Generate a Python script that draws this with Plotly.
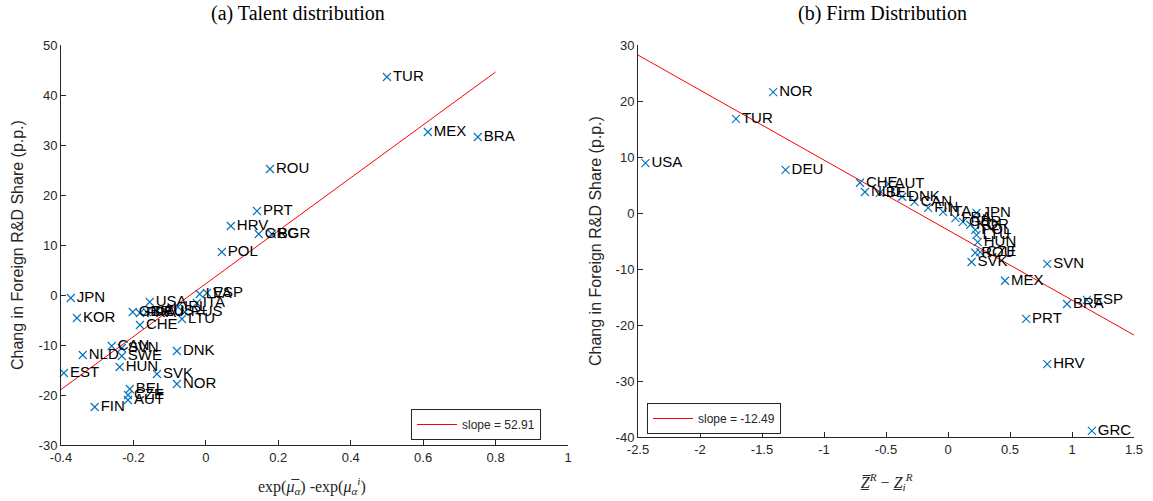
import plotly.graph_objects as go

# ---------------- data: (a) Talent distribution ----------------
talent_countries = ["TUR", "MEX", "BRA", "ROU", "PRT", "HRV", "GRC", "BGR", "POL",
                    "ESP", "LVA", "ITA", "IRL", "RUS", "LTU", "USA", "GBR", "FRA",
                    "DEU", "AUS", "CHE", "JPN", "KOR", "CAN", "SVN", "SWE", "NLD",
                    "EST", "HUN", "SVK", "NOR", "DNK", "BEL", "CZE", "AUT", "FIN"]
talent_x = [0.500, 0.613, 0.751, 0.177, 0.141, 0.069, 0.146, 0.182, 0.044,
            0.003, -0.017, -0.025, -0.077, -0.058, -0.066, -0.155, -0.202, -0.182,
            -0.163, -0.135, -0.182, -0.373, -0.356, -0.260, -0.232, -0.232, -0.340,
            -0.392, -0.238, -0.135, -0.080, -0.080, -0.210, -0.215, -0.215, -0.307]
talent_y = [43.6, 32.6, 31.6, 25.2, 16.8, 13.8, 12.2, 12.2, 8.6,
            0.4, 0.2, -1.6, -2.4, -3.4, -4.8, -1.4, -3.4, -3.6,
            -3.4, -3.2, -6.0, -0.6, -4.6, -10.2, -10.6, -12.2, -12.0,
            -15.6, -14.4, -15.8, -17.8, -11.2, -18.8, -20.0, -21.0, -22.4]
talent_fit_x = [-0.4, 0.8]
talent_fit_y = [-18.9, 44.6]
talent_slope_label = "slope = 52.91"

# ---------------- data: (b) Firm Distribution ----------------
firm_countries = ["NOR", "TUR", "USA", "DEU", "CHE", "NLD", "AUT", "BEL", "DNK",
                  "CAN", "FIN", "ITA", "FRA", "GBR", "JPN", "KOR", "POL", "LTU",
                  "HUN", "ROU", "CZE", "SVK", "MEX", "SVN", "ESP", "BRA", "PRT",
                  "HRV", "GRC"]
firm_x = [-1.41, -1.71, -2.44, -1.31, -0.71, -0.67, -0.48, -0.55, -0.37,
          -0.27, -0.16, -0.04, 0.06, 0.12, 0.23, 0.18, 0.22, 0.23,
          0.24, 0.22, 0.26, 0.19, 0.46, 0.80, 1.12, 0.96, 0.63,
          0.80, 1.16]
firm_y = [21.6, 16.8, 8.9, 7.7, 5.4, 3.75, 5.2, 3.6, 2.9,
          2.0, 0.9, 0.2, -0.9, -1.6, 0.0, -2.1, -3.0, -3.9,
          -5.2, -7.1, -7.0, -8.75, -12.1, -9.1, -15.5, -16.25, -18.9,
          -27.0, -38.9]
firm_fit_x = [-2.5, 1.5]
firm_fit_y = [28.2, -21.8]
firm_slope_label = "slope = -12.49"

# ---------------- tick labels ----------------
talent_xticks = [-0.4, -0.2, 0, 0.2, 0.4, 0.6, 0.8, 1]
talent_xtick_text = ["-0.4", "-0.2", "0", "0.2", "0.4", "0.6", "0.8", "1"]
talent_yticks = [-30, -20, -10, 0, 10, 20, 30, 40, 50]
talent_ytick_text = ["-30", "-20", "-10", "0", "10", "20", "30", "40", "50"]
firm_xticks = [-2.5, -2, -1.5, -1, -0.5, 0, 0.5, 1, 1.5]
firm_xtick_text = ["-2.5", "-2", "-1.5", "-1", "-0.5", "0", "0.5", "1", "1.5"]
firm_yticks = [-40, -30, -20, -10, 0, 10, 20, 30]
firm_ytick_text = ["-40", "-30", "-20", "-10", "0", "10", "20", "30"]

W, H = 1153, 501
AXC = "#262626"
BLUE = "#0072BD"
SANS = "Liberation Sans, Arial, sans-serif"
SERIF = "Liberation Serif, DejaVu Serif, serif"

fig = go.Figure()

# red fit lines
fig.add_trace(go.Scatter(x=talent_fit_x, y=talent_fit_y, mode="lines",
                         line=dict(color="#FF0000", width=1),
                         name=talent_slope_label, xaxis="x", yaxis="y",
                         legend="legend", showlegend=True))
fig.add_trace(go.Scatter(x=firm_fit_x, y=firm_fit_y, mode="lines",
                         line=dict(color="#FF0000", width=1),
                         name=firm_slope_label, xaxis="x2", yaxis="y2",
                         legend="legend2", showlegend=True))

# scatter points with labels
fig.add_trace(go.Scatter(x=talent_x, y=talent_y, mode="markers+text",
                         text=talent_countries, textposition="middle right",
                         textfont=dict(family=SANS, size=15, color="black"),
                         marker=dict(symbol="x-thin", size=8,
                                     line=dict(color=BLUE, width=1.1), color=BLUE),
                         xaxis="x", yaxis="y", showlegend=False, cliponaxis=False))
fig.add_trace(go.Scatter(x=firm_x, y=firm_y, mode="markers+text",
                         text=firm_countries, textposition="middle right",
                         textfont=dict(family=SANS, size=15, color="black"),
                         marker=dict(symbol="x-thin", size=8,
                                     line=dict(color=BLUE, width=1.1), color=BLUE),
                         xaxis="x2", yaxis="y2", showlegend=False, cliponaxis=False))

def px_x(p):
    return p / W

def px_y(p):
    return 1 - p / H

axis_common = dict(showline=True, linecolor=AXC, linewidth=1, mirror=False,
                   showgrid=False, zeroline=False, ticks="inside", ticklen=5,
                   tickcolor=AXC, tickwidth=1, automargin=False,
                   tickfont=dict(family=SANS, size=13, color=AXC))

fig.update_layout(
    width=W, height=H,
    margin=dict(l=0, r=0, t=0, b=0, autoexpand=False),
    paper_bgcolor="white", plot_bgcolor="white",
    xaxis=dict(domain=[px_x(61), px_x(568)], range=[-0.4, 1], anchor="y",
               tickmode="array", tickvals=talent_xticks, ticktext=talent_xtick_text,
               **axis_common),
    yaxis=dict(domain=[px_y(445), px_y(45)], range=[-30, 50], anchor="x",
               tickmode="array", tickvals=talent_yticks, ticktext=talent_ytick_text,
               **axis_common),
    xaxis2=dict(domain=[px_x(638), px_x(1134)], range=[-2.5, 1.5], anchor="y2",
                tickmode="array", tickvals=firm_xticks, ticktext=firm_xtick_text,
                **axis_common),
    yaxis2=dict(domain=[px_y(437), px_y(45)], range=[-40, 30], anchor="x2",
                tickmode="array", tickvals=firm_yticks, ticktext=firm_ytick_text,
                **axis_common),
    legend=dict(x=px_x(411), y=px_y(409), xanchor="left", yanchor="top",
                bgcolor="white", bordercolor=AXC, borderwidth=1,
                font=dict(family=SANS, size=12, color=AXC), itemwidth=40,
                tracegroupgap=0),
    legend2=dict(x=px_x(647), y=px_y(403), xanchor="left", yanchor="top",
                 bgcolor="white", bordercolor=AXC, borderwidth=1,
                 font=dict(family=SANS, size=12, color=AXC), itemwidth=40,
                 tracegroupgap=0),
    showlegend=True,
)

annotations = [
    dict(text="(a) Talent distribution", x=px_x(298), y=px_y(14),
         font=dict(family=SERIF, size=20, color="black")),
    dict(text="(b) Firm Distribution", x=px_x(882), y=px_y(14),
         font=dict(family=SERIF, size=20, color="black")),
    dict(text="Chang in Foreign R&D Share (p.p.)", x=px_x(17), y=px_y(245),
         textangle=-90, font=dict(family=SANS, size=16, color=AXC)),
    dict(text="Chang in Foreign R&D Share (p.p.)", x=px_x(595), y=px_y(241),
         textangle=-90, font=dict(family=SANS, size=16, color=AXC)),
    dict(text="exp(<i>μ\u0305<sub>α</sub></i>) -exp(<i>μ<sub>α</sub><sup>i</sup></i>)",
         x=px_x(312), y=px_y(486),
         font=dict(family=SERIF, size=16, color=AXC)),
    dict(text="<i>Z\u0332\u0305<sup>R</sup></i> − <i>Z\u0332<sub>i</sub><sup>R</sup></i>",
         x=px_x(886), y=px_y(482),
         font=dict(family=SERIF, size=16, color=AXC)),
]
for a in annotations:
    a.update(xref="paper", yref="paper", showarrow=False,
             xanchor="center", yanchor="middle")
fig.update_layout(annotations=annotations)

fig.write_html("out.html",
               config={"displayModeBar": False},
               post_script="document.body.style.margin='0';"
                           "document.body.style.overflow='hidden';")
